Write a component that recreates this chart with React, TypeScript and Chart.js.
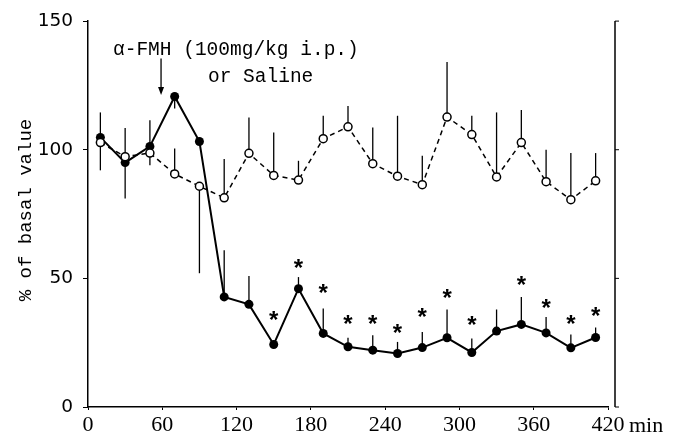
import React, { useEffect, useRef } from "react";
import { Chart, registerables } from "chart.js";

Chart.register(...registerables);

// Sampling times (min)
const TIMES = [10, 30, 50, 70, 90, 110, 130, 150, 170, 190, 210, 230, 250, 270, 290, 310, 330, 350, 370, 390, 410];

// alpha-FMH group (% of basal value)
const FMH = [104.8, 95.0, 101.3, 120.7, 103.2, 42.8, 39.9, 24.3, 46.0, 28.6, 23.4, 22.1, 20.8, 23.1, 26.9, 21.2, 29.5, 32.1, 28.8, 23.0, 27.0];
const FMH_HIGH = [114.5, 108.4, 111.5, null, null, 60.9, 50.9, null, 50.5, 38.3, 26.9, 27.9, 25.3, 29.2, 37.9, 26.6, 37.9, 42.8, 35.0, 28.2, 30.9];
const FMH_LOW = [92.0, 81.0, 94.0, 116.0, null, null, null, null, null, null, null, null, null, null, null, null, null, null, null, null, null];

// Saline group (% of basal value)
const SALINE = [102.8, 97.3, 98.7, 90.6, 85.8, 81.3, 98.6, 90.0, 88.2, 104.3, 108.9, 94.6, 89.7, 86.4, 112.7, 105.9, 89.4, 102.8, 87.6, 80.6, 87.9];
const SALINE_HIGH = [null, null, null, 100.5, null, 96.4, 112.5, 106.7, 95.7, 113.2, 117.0, 108.6, 113.2, 97.7, 134.1, 113.2, 114.5, 115.4, 100.0, 98.7, 98.7];
const SALINE_LOW = [null, null, null, null, 52.0, null, null, null, null, null, null, null, null, null, null, null, null, null, null, null, null];

// Significance asterisk levels (value units), null = none
const SIG = [null, null, null, null, null, null, null, 35.7, 55.8, 46.2, 34.1, 34.1, 30.7, 36.9, 44.3, 33.7, null, 49.2, 40.4, 34.4, 37.3];

// Axes
const X_TICKS = [0, 60, 120, 180, 240, 300, 360, 420];
const Y_TICKS = [0, 50, 100, 150];

// Annotation
const INJECTION_TIME = 59;
const ARROW_FROM = 135.5;
const ARROW_TO = 121.3;
const LABEL_LINE1 = "α-FMH (100mg/kg i.p.)";
const LABEL_LINE2 = "or Saline";
const Y_TITLE = "% of basal value";
const X_UNIT = "min";

export default function App() {
  const ref = useRef<HTMLCanvasElement>(null);

  useEffect(() => {
    const canvas = ref.current;
    if (!canvas) return;

    const overlay = {
      id: "overlay",
      beforeDatasetsDraw(chart: any) {
        const { ctx, scales } = chart;
        const xs = scales.x;
        const ys = scales.y;
        ctx.save();
        ctx.strokeStyle = "#000";
        ctx.lineWidth = 1.3;
        const bars = (vals: number[], hi: (number | null)[], lo: (number | null)[]) => {
          TIMES.forEach((t, i) => {
            const px = xs.getPixelForValue(t);
            const py = ys.getPixelForValue(vals[i]);
            if (hi[i] != null) {
              ctx.beginPath();
              ctx.moveTo(px, py);
              ctx.lineTo(px, ys.getPixelForValue(hi[i] as number));
              ctx.stroke();
            }
            if (lo[i] != null) {
              ctx.beginPath();
              ctx.moveTo(px, py);
              ctx.lineTo(px, ys.getPixelForValue(lo[i] as number));
              ctx.stroke();
            }
          });
        };
        bars(FMH, FMH_HIGH, FMH_LOW);
        bars(SALINE, SALINE_HIGH, SALINE_LOW);
        ctx.restore();
      },
      afterDatasetsDraw(chart: any) {
        const { ctx, scales, chartArea } = chart;
        const xs = scales.x;
        const ys = scales.y;
        ctx.save();
        ctx.fillStyle = "#000";
        ctx.strokeStyle = "#000";

        // asterisks
        ctx.font = "bold 24px 'Liberation Sans'";
        ctx.textAlign = "center";
        ctx.textBaseline = "alphabetic";
        TIMES.forEach((t, i) => {
          if (SIG[i] == null) return;
          const px = xs.getPixelForValue(t);
          const py = ys.getPixelForValue(SIG[i] as number);
          ctx.fillText("*", px, py + 13);
        });

        // right axis
        const rx = chartArea.right + 7;
        ctx.lineWidth = 1.5;
        ctx.beginPath();
        ctx.moveTo(rx, chartArea.top);
        ctx.lineTo(rx, chartArea.bottom);
        ctx.stroke();
        ctx.lineWidth = 1;
        Y_TICKS.forEach((v) => {
          const py = ys.getPixelForValue(v);
          ctx.beginPath();
          ctx.moveTo(rx, py);
          ctx.lineTo(rx + 4, py);
          ctx.stroke();
        });

        // arrow
        const ax = xs.getPixelForValue(INJECTION_TIME);
        const a1 = ys.getPixelForValue(ARROW_FROM);
        const a2 = ys.getPixelForValue(ARROW_TO);
        ctx.lineWidth = 1.3;
        ctx.beginPath();
        ctx.moveTo(ax, a1);
        ctx.lineTo(ax, a2 - 6);
        ctx.stroke();
        ctx.beginPath();
        ctx.moveTo(ax - 3, a2 - 8);
        ctx.lineTo(ax, a2);
        ctx.lineTo(ax + 3, a2 - 8);
        ctx.closePath();
        ctx.fill();

        // annotation text
        ctx.font = "19.5px 'Liberation Mono'";
        ctx.textAlign = "left";
        ctx.textBaseline = "alphabetic";
        ctx.fillText(LABEL_LINE1, 113, 55);
        ctx.fillText(LABEL_LINE2, 208, 82);

        // y title
        ctx.save();
        ctx.translate(26, 210);
        ctx.rotate(-Math.PI / 2);
        ctx.font = "19px 'Liberation Mono'";
        ctx.textAlign = "center";
        ctx.textBaseline = "middle";
        ctx.fillText(Y_TITLE, 0, 0);
        ctx.restore();

        // x unit
        ctx.font = "22px 'Liberation Serif'";
        ctx.textAlign = "left";
        ctx.textBaseline = "alphabetic";
        ctx.fillText(X_UNIT, xs.getPixelForValue(420) + 21, 432);

        ctx.restore();
      },
    };

    const chart = new Chart(canvas, {
      type: "line",
      data: {
        datasets: [
          {
            label: "Saline",
            data: TIMES.map((t, i) => ({ x: t, y: SALINE[i] })),
            borderColor: "#000",
            borderWidth: 1.5,
            borderDash: [5, 4],
            pointRadius: 4,
            pointBorderWidth: 1.5,
            pointBackgroundColor: "#fff",
            pointBorderColor: "#000",
            tension: 0,
            order: 0,
          },
          {
            label: "α-FMH",
            data: TIMES.map((t, i) => ({ x: t, y: FMH[i] })),
            borderColor: "#000",
            borderWidth: 2,
            pointRadius: 4.5,
            pointBorderWidth: 0,
            pointBackgroundColor: "#000",
            pointBorderColor: "#000",
            tension: 0,
            order: 1,
          },
        ],
      },
      options: {
        animation: false,
        responsive: false,
        devicePixelRatio: 1,
        layout: { padding: { top: 20, right: 73, left: 0, bottom: 0 } },
        plugins: { legend: { display: false }, tooltip: { enabled: false } },
        scales: {
          x: {
            type: "linear",
            min: 0,
            max: 420,
            afterFit: (s: any) => {
              s.height = 28;
            },
            afterBuildTicks: (s: any) => {
              s.ticks = X_TICKS.map((v) => ({ value: v }));
            },
            ticks: {
              color: "#000",
              font: { family: "'Liberation Serif'", size: 22 },
              padding: 2,
              maxRotation: 0,
              autoSkip: false,
            },
            grid: { drawOnChartArea: false, drawTicks: true, tickLength: 3, color: "#000" },
            border: { display: true, color: "#000", width: 1.5 },
          },
          y: {
            type: "linear",
            min: 0,
            max: 150,
            afterFit: (s: any) => {
              s.width = 88;
            },
            afterBuildTicks: (s: any) => {
              s.ticks = Y_TICKS.map((v) => ({ value: v }));
            },
            ticks: {
              color: "#000",
              font: { family: "'DejaVu Sans'", size: 18.5 },
              padding: 10,
            },
            grid: { drawOnChartArea: false, drawTicks: true, tickLength: 5, color: "#000" },
            border: { display: true, color: "#000", width: 1.5 },
          },
        },
      },
      plugins: [overlay],
    });

    return () => chart.destroy();
  }, []);

  return (
    <div style={{ position: "fixed", left: 0, top: 0, width: 681, height: 435, background: "#fff" }}>
      <canvas ref={ref} width={681} height={435} style={{ width: 681, height: 435, display: "block" }} />
    </div>
  );
}
